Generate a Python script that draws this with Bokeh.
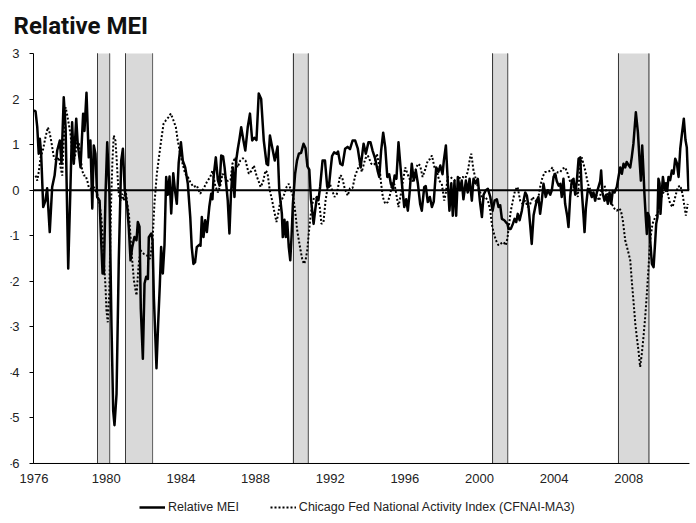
from bokeh.plotting import figure
from bokeh.models import Range1d, FixedTicker, BoxAnnotation, Legend, LegendItem, Label
from bokeh.embed import file_html
from bokeh.resources import INLINE

# ---- data (decimal years, index values) ----
mei_dates = [1976.59, 1976.68, 1976.77, 1976.85, 1976.91, 1976.98, 1977.09, 1977.21, 1977.30, 1977.44,
             1977.57, 1977.70, 1977.84, 1977.98, 1978.07, 1978.19, 1978.29, 1978.43, 1978.55, 1978.64,
             1978.73, 1978.86, 1978.94, 1979.09, 1979.23, 1979.30, 1979.41, 1979.53, 1979.62, 1979.72,
             1979.80, 1979.89, 1979.98, 1980.11, 1980.21, 1980.27, 1980.34, 1980.43, 1980.52, 1980.64,
             1980.75, 1980.84, 1980.91, 1981.02, 1981.14, 1981.27, 1981.36, 1981.46, 1981.59, 1981.68,
             1981.77, 1981.86, 1981.98, 1982.09, 1982.16, 1982.25, 1982.32, 1982.43, 1982.52, 1982.61,
             1982.70, 1982.75, 1982.88, 1982.95, 1983.02, 1983.16, 1983.25, 1983.34, 1983.41, 1983.50,
             1983.59, 1983.68, 1983.77, 1983.86, 1983.95, 1984.06, 1984.15, 1984.25, 1984.35, 1984.47,
             1984.57, 1984.70, 1984.84, 1984.97, 1985.05, 1985.14, 1985.23, 1985.32, 1985.45, 1985.52,
             1985.59, 1985.68, 1985.77, 1985.86, 1985.99, 1986.09, 1986.16, 1986.22, 1986.34, 1986.45,
             1986.54, 1986.63, 1986.73, 1986.81, 1986.88, 1986.98, 1987.07, 1987.15, 1987.25, 1987.34,
             1987.43, 1987.52, 1987.61, 1987.70, 1987.82, 1987.92, 1988.05, 1988.17, 1988.29, 1988.41,
             1988.52, 1988.64, 1988.77, 1988.91, 1989.06, 1989.14, 1989.24, 1989.36, 1989.50, 1989.65,
             1989.74, 1989.88, 1989.93, 1990.02, 1990.09, 1990.17, 1990.25, 1990.33, 1990.40, 1990.47,
             1990.59, 1990.69, 1990.79, 1990.91, 1991.04, 1991.15, 1991.25, 1991.35, 1991.44, 1991.58,
             1991.67, 1991.76, 1991.84, 1991.93, 1992.06, 1992.19, 1992.31, 1992.40, 1992.49, 1992.57,
             1992.68, 1992.81, 1992.89, 1993.01, 1993.13, 1993.27, 1993.40, 1993.53, 1993.67, 1993.81,
             1993.95, 1994.10, 1994.26, 1994.38, 1994.52, 1994.63, 1994.74, 1994.88, 1995.01, 1995.10,
             1995.20, 1995.31, 1995.42, 1995.53, 1995.63, 1995.72, 1995.83, 1995.92, 1996.02, 1996.13,
             1996.24, 1996.33, 1996.44, 1996.54, 1996.63, 1996.72, 1996.84, 1996.95, 1997.06, 1997.17,
             1997.29, 1997.38, 1997.51, 1997.59, 1997.70, 1997.81, 1997.92, 1998.02, 1998.15, 1998.27,
             1998.37, 1998.49, 1998.56, 1998.67, 1998.77, 1998.86, 1998.96, 1999.04, 1999.13, 1999.22,
             1999.31, 1999.42, 1999.52, 1999.61, 1999.74, 1999.84, 1999.94, 2000.06, 2000.15, 2000.27,
             2000.38, 2000.49, 2000.60, 2000.69, 2000.81, 2000.92, 2001.05, 2001.17, 2001.28, 2001.40,
             2001.49, 2001.58, 2001.67, 2001.80, 2001.88, 2001.97, 2002.03, 2002.15, 2002.26, 2002.35,
             2002.44, 2002.52, 2002.62, 2002.74, 2002.83, 2002.92, 2003.01, 2003.10, 2003.19, 2003.27,
             2003.37, 2003.46, 2003.54, 2003.63, 2003.72, 2003.81, 2003.90, 2004.02, 2004.13, 2004.26,
             2004.35, 2004.44, 2004.53, 2004.61, 2004.71, 2004.80, 2004.88, 2004.97, 2005.06, 2005.17,
             2005.24, 2005.33, 2005.42, 2005.51, 2005.60, 2005.69, 2005.78, 2005.87, 2005.95, 2006.05,
             2006.10, 2006.17, 2006.28, 2006.40, 2006.49, 2006.58, 2006.67, 2006.76, 2006.85, 2006.94,
             2006.99, 2007.06, 2007.17, 2007.26, 2007.35, 2007.44, 2007.53, 2007.61, 2007.71, 2007.83,
             2007.92, 2008.01, 2008.10, 2008.19, 2008.28, 2008.36, 2008.46, 2008.55, 2008.63, 2008.72,
             2008.85, 2008.96, 2009.05, 2009.12, 2009.19, 2009.26, 2009.31, 2009.38, 2009.44, 2009.49,
             2009.57, 2009.62, 2009.71, 2009.80, 2009.89, 2009.94, 2010.01, 2010.06, 2010.12, 2010.17,
             2010.23, 2010.30, 2010.39, 2010.46, 2010.53, 2010.60, 2010.69, 2010.78, 2010.87, 2010.96,
             2011.05, 2011.14, 2011.23, 2011.31, 2011.42, 2011.51, 2011.58, 2011.67]
mei_values = [1.75, 1.73, 1.39, 0.80, 1.13, 0.80, -0.37, -0.23, 0.04, -0.92,
              0.07, 0.32, 0.87, 1.09, 0.58, 2.04, 1.38, -1.72, 0.07, 1.49,
              0.58, 1.57, 1.02, 0.50, 1.68, 1.30, 2.14, 0.72, 1.09, -0.40,
              0.98, 0.80, -0.15, -0.23, -1.25, -1.83, -1.83, -0.08, 1.05, -0.08,
              -3.00, -4.84, -5.16, -4.47, -1.54, 0.65, 0.91, 0.00, -0.37, -0.84,
              -1.54, -1.25, -1.03, -1.10, -0.70, -0.80, -2.60, -3.70, -2.05, -1.90,
              -1.95, -1.03, -0.95, -1.10, -2.35, -3.91, -2.93, -2.07, -1.25, -1.83,
              -1.20, 0.29, -0.10, 0.30, -0.51, 0.37, 0.00, -0.30, 0.60, 1.05,
              0.65, 0.50, 0.14, -0.59, -1.25, -1.62, -1.58, -1.25, -1.20, -1.22,
              -0.59, -1.03, -0.66, -0.92, -0.37, -0.08, -0.20, 0.29, 0.72, 0.22,
              0.10, 0.76, 0.74, 0.50, 0.21, -0.23, -0.95, -0.10, 0.50, -0.15,
              0.65, 0.91, 1.13, 1.38, 1.09, 0.87, 1.38, 1.68, 1.09, 1.15,
              1.10, 2.12, 2.00, 1.09, 0.58, 0.55, 1.20, 0.94, 0.65, 0.96,
              0.00, -0.52, -1.03, -0.65, -1.03, -0.70, -1.25, -1.54, -1.00, -0.30,
              0.36, 0.65, 0.80, 0.82, 1.02, 0.92, 0.52, 0.45, -0.20, -0.74,
              -0.42, -0.15, -0.22, 0.07, 0.65, 0.65, 0.07, 0.07, 0.45, 0.75,
              0.83, 0.80, 0.85, 0.58, 0.55, 0.91, 0.95, 0.90, 1.09, 1.09,
              0.91, 0.50, 1.02, 0.80, 1.05, 1.05, 0.87, 0.69, 0.43, 0.29,
              0.87, 1.26, 0.94, 0.29, 0.35, 0.14, 0.03, 0.32, 0.25, 1.05,
              0.50, 0.07, -0.37, -0.20, -0.45, -0.08, 0.58, 0.21, 0.43, 0.14,
              -0.30, -0.45, 0.07, 0.09, -0.26, -0.15, -0.37, -0.25, 0.50, 0.40,
              0.54, 0.35, 0.65, 0.98, 0.20, -0.45, 0.15, -0.56, 0.20, -0.56,
              0.29, 0.00, 0.21, -0.20, 0.21, -0.05, 0.25, -0.23, 0.25, 0.15,
              0.25, -0.23, -0.59, -0.10, 0.00, 0.03, -0.15, -0.45, -0.23, -0.20,
              -0.37, -0.33, -0.63, -0.66, -0.70, -0.74, -0.85, -0.85, -0.74, -0.63,
              -0.70, -0.52, -0.66, -0.45, -0.23, -0.05, -0.12, -0.37, -0.78, -1.18,
              -0.55, -0.37, -0.23, -0.15, -0.52, -0.23, 0.14, -0.15, 0.00, -0.10,
              0.00, 0.29, 0.36, 0.20, 0.10, 0.14, -0.15, 0.25, -0.30, -0.56,
              -0.81, -0.15, 0.21, 0.25, -0.10, 0.21, 0.69, 0.72, 0.00, -0.59,
              -0.92, -0.40, 0.03, -0.05, -0.15, -0.05, -0.23, -0.05, 0.07, 0.20,
              0.43, -0.05, -0.23, -0.10, -0.30, -0.05, -0.30, -0.02, -0.05, 0.07,
              0.29, 0.50, 0.36, 0.58, 0.50, 0.62, 0.55, 0.50, 0.72, 1.02,
              1.71, 1.27, 0.65, 0.21, 0.98, 0.40, -0.08, -0.59, -0.96, -0.50,
              -0.59, -1.10, -1.62, -1.69, -1.10, -0.74, -0.59, 0.25, 0.15, -0.52,
              -0.10, 0.29, 0.03, 0.15, -0.02, 0.29, 0.22, 0.43, 0.36, 0.69,
              0.59, 0.29, 0.91, 1.20, 1.57, 1.10, 0.94, 0.00]

cfnai_dates = [1976.68, 1976.77, 1976.85, 1976.95, 1977.09, 1977.21, 1977.34, 1977.44, 1977.53, 1977.66,
               1977.80, 1977.93, 1978.02, 1978.11, 1978.19, 1978.29, 1978.38, 1978.46, 1978.55, 1978.64,
               1978.73, 1978.82, 1978.91, 1979.00, 1979.09, 1979.18, 1979.27, 1979.36, 1979.45, 1979.53,
               1979.62, 1979.80, 1979.98, 1980.11, 1980.20, 1980.27, 1980.34, 1980.43, 1980.48, 1980.55,
               1980.63, 1980.68, 1980.73, 1980.80, 1980.87, 1980.96, 1981.02, 1981.09, 1981.14, 1981.23,
               1981.32, 1981.41, 1981.50, 1981.59, 1981.68, 1981.77, 1981.86, 1981.95, 1982.04, 1982.09,
               1982.16, 1982.21, 1982.30, 1982.48, 1982.64, 1982.82, 1982.95, 1983.05, 1983.18, 1983.27,
               1983.41, 1983.54, 1983.66, 1983.80, 1983.93, 1984.07, 1984.20, 1984.30, 1984.43, 1984.56,
               1984.70, 1984.84, 1984.97, 1985.14, 1985.32, 1985.50, 1985.68, 1985.86, 1986.04, 1986.16,
               1986.31, 1986.45, 1986.58, 1986.70, 1986.84, 1986.98, 1987.13, 1987.23, 1987.38, 1987.50,
               1987.65, 1987.79, 1987.93, 1988.11, 1988.24, 1988.38, 1988.52, 1988.63, 1988.74, 1988.87,
               1989.00, 1989.11, 1989.23, 1989.36, 1989.49, 1989.59, 1989.67, 1989.77, 1989.91, 1990.02,
               1990.13, 1990.25, 1990.34, 1990.49, 1990.61, 1990.70, 1990.79, 1990.88, 1990.97, 1991.06,
               1991.15, 1991.24, 1991.32, 1991.41, 1991.51, 1991.60, 1991.68, 1991.77, 1991.91, 1992.00,
               1992.11, 1992.22, 1992.33, 1992.45, 1992.57, 1992.70, 1992.83, 1993.00, 1993.10, 1993.25,
               1993.41, 1993.53, 1993.67, 1993.81, 1993.95, 1994.08, 1994.16, 1994.35, 1994.49, 1994.67,
               1994.84, 1994.97, 1995.10, 1995.20, 1995.29, 1995.42, 1995.56, 1995.69, 1995.81, 1995.92,
               1996.04, 1996.13, 1996.25, 1996.36, 1996.49, 1996.61, 1996.76, 1996.88, 1997.03, 1997.17,
               1997.29, 1997.42, 1997.56, 1997.70, 1997.81, 1997.92, 1998.06, 1998.18, 1998.31, 1998.45,
               1998.58, 1998.67, 1998.77, 1998.90, 1999.02, 1999.17, 1999.31, 1999.44, 1999.56, 1999.71,
               1999.84, 1999.97, 2000.03, 2000.15, 2000.27, 2000.38, 2000.51, 2000.63, 2000.78, 2000.92,
               2001.05, 2001.13, 2001.22, 2001.35, 2001.49, 2001.63, 2001.76, 2001.88, 2001.97, 2002.06,
               2002.15, 2002.26, 2002.38, 2002.51, 2002.65, 2002.78, 2002.92, 2003.06, 2003.19, 2003.31,
               2003.46, 2003.60, 2003.72, 2003.85, 2003.99, 2004.13, 2004.26, 2004.38, 2004.53, 2004.67,
               2004.80, 2004.92, 2005.06, 2005.20, 2005.33, 2005.47, 2005.60, 2005.74, 2005.85, 2005.95,
               2006.14, 2006.28, 2006.42, 2006.58, 2006.74, 2006.89, 2007.03, 2007.17, 2007.29, 2007.42,
               2007.56, 2007.71, 2007.83, 2007.96, 2008.05, 2008.15, 2008.28, 2008.42, 2008.55, 2008.63,
               2008.72, 2008.82, 2008.90, 2008.99, 2009.08, 2009.17, 2009.26, 2009.35, 2009.44, 2009.53,
               2009.62, 2009.74, 2009.89, 2010.01, 2010.16, 2010.28, 2010.42, 2010.56, 2010.69, 2010.82,
               2010.96, 2011.10, 2011.23, 2011.35, 2011.46, 2011.53, 2011.63]
cfnai_values = [0.32, 0.21, 0.40, 0.72, 0.91, 1.16, 1.38, 1.25, 1.05, 0.72,
                0.65, 0.72, 0.50, 0.32, 1.09, 1.82, 1.64, 1.45, 1.24, 0.87,
                0.65, 0.80, 1.05, 1.02, 0.72, 0.43, 0.32, 0.32, 0.21, 0.07,
                0.03, 0.07, -0.08, -0.30, -0.59, -0.96, -1.54, -2.13, -2.64, -2.90,
                -2.27, -1.25, -0.23, 0.65, 1.20, 1.09, 0.72, 0.21, -0.08, -0.23,
                -0.08, -0.23, 0.03, -0.30, -0.52, -1.03, -1.54, -1.98, -2.20, -2.31,
                -1.90, -1.62, -1.32, -1.40, -1.43, -1.51, -1.10, -0.30, 0.36, 0.65,
                1.09, 1.46, 1.53, 1.60, 1.68, 1.53, 1.38, 1.09, 0.80, 0.58,
                0.36, 0.29, 0.18, 0.07, 0.10, -0.08, 0.03, 0.18, 0.29, 0.43,
                0.10, -0.05, 0.10, 0.36, 0.29, 0.20, 0.22, 0.58, 0.72, 0.50,
                0.65, 0.70, 0.65, 0.36, 0.42, 0.54, 0.32, 0.20, 0.07, 0.18,
                0.43, 0.38, 0.00, -0.23, -0.50, -0.70, -0.55, -0.30, -0.18, -0.08,
                0.07, 0.14, 0.03, -0.15, -0.52, -0.88, -1.10, -1.32, -1.51, -1.62,
                -1.54, -1.32, -0.96, -0.59, -0.30, -0.17, -0.18, -0.15, -0.37, -0.74,
                -0.70, -0.23, 0.05, 0.14, 0.00, -0.15, -0.08, 0.33, 0.30, 0.03,
                -0.12, 0.04, 0.05, 0.32, 0.47, 0.58, 0.40, 0.69, 0.76, 0.58,
                0.56, 0.80, 0.54, 0.14, -0.15, -0.30, -0.26, -0.08, 0.18, 0.12,
                -0.15, -0.37, -0.10, 0.18, 0.50, 0.36, 0.21, 0.20, 0.43, 0.58,
                0.54, 0.29, 0.45, 0.65, 0.68, 0.76, 0.50, 0.43, 0.21, 0.14,
                -0.23, -0.05, 0.29, 0.29, 0.25, 0.21, 0.18, 0.29, 0.29, 0.26,
                0.40, 0.72, 0.80, 0.43, 0.25, 0.07, -0.05, -0.19, -0.15, -0.23,
                -0.45, -0.74, -0.92, -1.10, -1.21, -1.17, -1.14, -1.21, -1.05, -0.74,
                -0.45, -0.23, 0.00, 0.07, -0.23, -0.30, -0.23, -0.37, -0.30, -0.15,
                -0.23, -0.23, 0.07, 0.29, 0.40, 0.40, 0.43, 0.50, 0.29, 0.40,
                0.40, 0.47, 0.50, 0.36, 0.18, 0.07, 0.07, -0.15, 0.45, 0.72,
                0.43, 0.14, 0.00, -0.15, -0.12, -0.23, 0.07, 0.10, -0.05, -0.15,
                -0.30, -0.41, -0.45, -0.40, -0.45, -0.66, -1.10, -1.32, -1.54, -1.98,
                -2.42, -2.93, -3.22, -3.52, -3.88, -3.59, -3.22, -2.79, -2.27, -1.69,
                -1.10, -0.74, -0.59, -0.52, -0.23, -0.08, 0.00, -0.08, -0.30, -0.37,
                -0.15, 0.07, 0.10, -0.08, -0.37, -0.56, -0.30]

recession_starts = [1980.00, 1981.50, 1990.50, 2001.17, 2007.92]
recession_ends = [1980.65, 1982.95, 1991.30, 2001.98, 2009.55]

year_labels = ["1976", "1980", "1984", "1988", "1992", "1996", "2000", "2004", "2008"]
year_label_pos = [1976.60, 1980.47, 1984.47, 1988.47, 1992.47, 1996.47, 2000.47, 2004.47, 2008.47]
y_ticks = [-6, -5, -4, -3, -2, -1, 0, 1, 2, 3]
y_tick_labels = ["-6", "-5", "-4", "-3", "-2", "-1", "0", "1", "2", "3"]
Y_MIN, Y_MAX = -6, 3
X_START = 1976.57          # where the value axis stands

LABEL_FONT = "Liberation Sans"

# frame: x 10..689, y 46..523 ; the plotted area (-6..3, from X_START) sits inside it
p = figure(width=696, height=523,
           x_range=Range1d(1975.337, 2011.725), y_range=Range1d(-7.3171, 3.1537),
           x_axis_location=None,
           output_backend="svg", toolbar_location=None,
           min_border_left=10, min_border_right=7, min_border_top=46, min_border_bottom=0)
p.outline_line_color = None
p.grid.visible = False
p.background_fill_color = "white"
p.border_fill_color = "white"

# title
p.title.text = "Relative MEI"
p.title.align = "left"
p.title.offset = 3
p.title.standoff = 14
p.title.text_font = "Roboto"
p.title.text_font_style = "bold"
p.title.text_font_size = "24px"
p.title.text_color = "#111111"

# recession shading
for s, e in zip(recession_starts, recession_ends):
    p.add_layout(BoxAnnotation(left=s, right=e, bottom=Y_MIN, top=Y_MAX, fill_color="#d9d9d9",
                               fill_alpha=1.0, line_color=None, level="underlay"))
    p.add_layout(BoxAnnotation(left=s, right=s, bottom=Y_MIN, top=Y_MAX, fill_alpha=0,
                               line_color="#3a3a3a", line_alpha=1.0, line_width=1, level="underlay"))
    p.add_layout(BoxAnnotation(left=e, right=e, bottom=Y_MIN, top=Y_MAX, fill_alpha=0,
                               line_color="#6a6a6a", line_alpha=1.0, line_width=1, level="underlay"))

r_mei = p.line(mei_dates, mei_values, line_color="black", line_width=2.5, line_join="round")
r_cf = p.line(cfnai_dates, cfnai_values, line_color="black", line_width=2, line_dash="2 2")

# zero line and bottom (x) axis line, both starting at the value axis
p.add_layout(BoxAnnotation(left=X_START, bottom=0, top=0, fill_alpha=0,
                           line_color="black", line_alpha=1.0, line_width=2))
p.add_layout(BoxAnnotation(left=X_START, bottom=Y_MIN, top=Y_MIN, fill_alpha=0,
                           line_color="black", line_alpha=1.0, line_width=1))

# year labels under the x axis line
for pos, lab in zip(year_label_pos, year_labels):
    p.add_layout(Label(x=pos, y=Y_MIN, y_offset=-15, text=lab, text_align="center",
                       text_baseline="middle", text_font=LABEL_FONT, text_font_size="13px",
                       text_color="#222222"))

# y axis: line and ticks drawn by the axis at X_START, labels set beside it
ya = p.yaxis[0]
ya.fixed_location = X_START
ya.bounds = (Y_MIN, Y_MAX)
ya.ticker = FixedTicker(ticks=y_ticks)
ya.major_label_overrides = {t: "" for t in y_ticks}
ya.major_label_standoff = 0
ya.minor_tick_line_color = None
ya.minor_tick_out = 0
ya.major_tick_out = 4
ya.major_tick_in = 0
ya.major_tick_line_color = "black"
ya.axis_line_color = "black"
for t, lab in zip(y_ticks, y_tick_labels):
    p.add_layout(Label(x=X_START, y=t, x_offset=-14, text=lab, text_align="right",
                       text_baseline="middle", text_font=LABEL_FONT, text_font_size="13px",
                       text_color="#222222"))

legend = Legend(items=[LegendItem(label="Relative MEI", renderers=[r_mei]),
                       LegendItem(label="Chicago Fed National Activity Index (CFNAI-MA3)", renderers=[r_cf])],
                location=(129, 8), orientation="horizontal", border_line_color=None,
                background_fill_alpha=0, padding=0, spacing=31, margin=0,
                glyph_width=26, glyph_height=16, label_height=16, label_standoff=3,
                label_text_font=LABEL_FONT, label_text_font_size="12.5px",
                label_text_color="#222222")
p.add_layout(legend)

open("out.html", "w").write(file_html(p, INLINE))
